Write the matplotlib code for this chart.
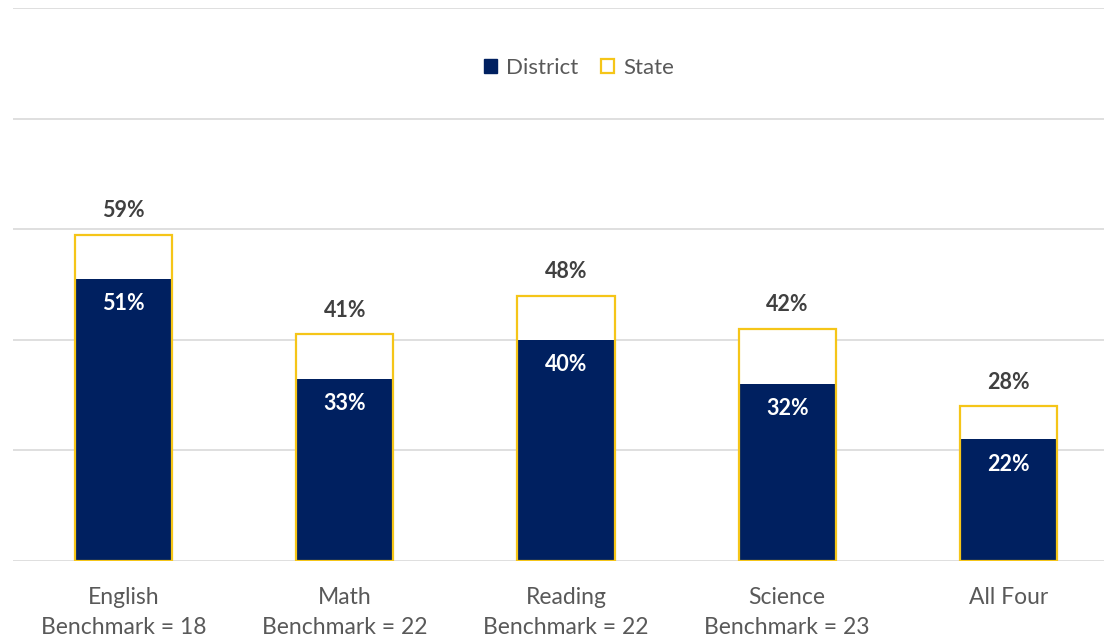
import matplotlib
matplotlib.use("Agg")
import matplotlib.pyplot as plt
from matplotlib.patches import Patch
import numpy as np

categories = ["English\nBenchmark = 18", "Math\nBenchmark = 22", "Reading\nBenchmark = 22",
              "Science\nBenchmark = 23", "All Four"]
district = [51, 33, 40, 32, 22]
state = [59, 41, 48, 42, 28]

navy = "#002060"
gold = "#F5C518"
grid_col = "#D9D9D9"
text_col = "#595959"
label_col = "#404040"

plt.rcParams['font.family'] = ['Lato', 'DejaVu Sans']

fig = plt.figure(figsize=(11.04, 6.39), dpi=100)
ax = fig.add_axes([13 / 1104, 78 / 639, 1106 / 1104, 553 / 639])

x = np.arange(len(categories))
w = 0.44

# state bars: white fill underneath, outline drawn on top of district
ax.bar(x, state, width=w, color="white", zorder=2)
ax.bar(x, district, width=w, color=navy, zorder=3)
ax.bar(x, state, width=w, facecolor="none", edgecolor=gold, linewidth=1.6, zorder=4)

for xi, d, s in zip(x, district, state):
    ax.text(xi, s + 2.4, f"{s}%", ha="center", va="bottom", fontsize=15.5,
            fontweight="bold", color=label_col)
    ax.text(xi, d - 2.6, f"{d}%", ha="center", va="top", fontsize=15.5,
            fontweight="bold", color="white", zorder=5)

ax.set_xlim(-0.5, len(categories) - 0.5)
ax.set_ylim(0, 100)
ax.set_yticks([0, 20, 40, 60, 80, 100])
ax.yaxis.grid(True, color=grid_col, linewidth=1.2)
ax.set_axisbelow(True)
ax.tick_params(axis="y", left=False, labelleft=False)
ax.tick_params(axis="x", bottom=False, pad=15)
ax.set_xticks(x)
ax.set_xticklabels(categories, fontsize=16.5, color=text_col, linespacing=1.55)
for sp in ax.spines.values():
    sp.set_visible(False)

handles = [Patch(facecolor=navy, edgecolor=navy, label="District"),
           Patch(facecolor="white", edgecolor=gold, linewidth=1.6, label="State")]
leg = fig.legend(handles=handles, loc="center", bbox_to_anchor=(579 / 1104, 1 - 68 / 639),
                 ncol=2, frameon=False, fontsize=16, handlelength=0.6, handleheight=0.6,
                 handletextpad=0.4, columnspacing=1.0)
for t in leg.get_texts():
    t.set_color(text_col)

fig.savefig("out.png", dpi=100)
